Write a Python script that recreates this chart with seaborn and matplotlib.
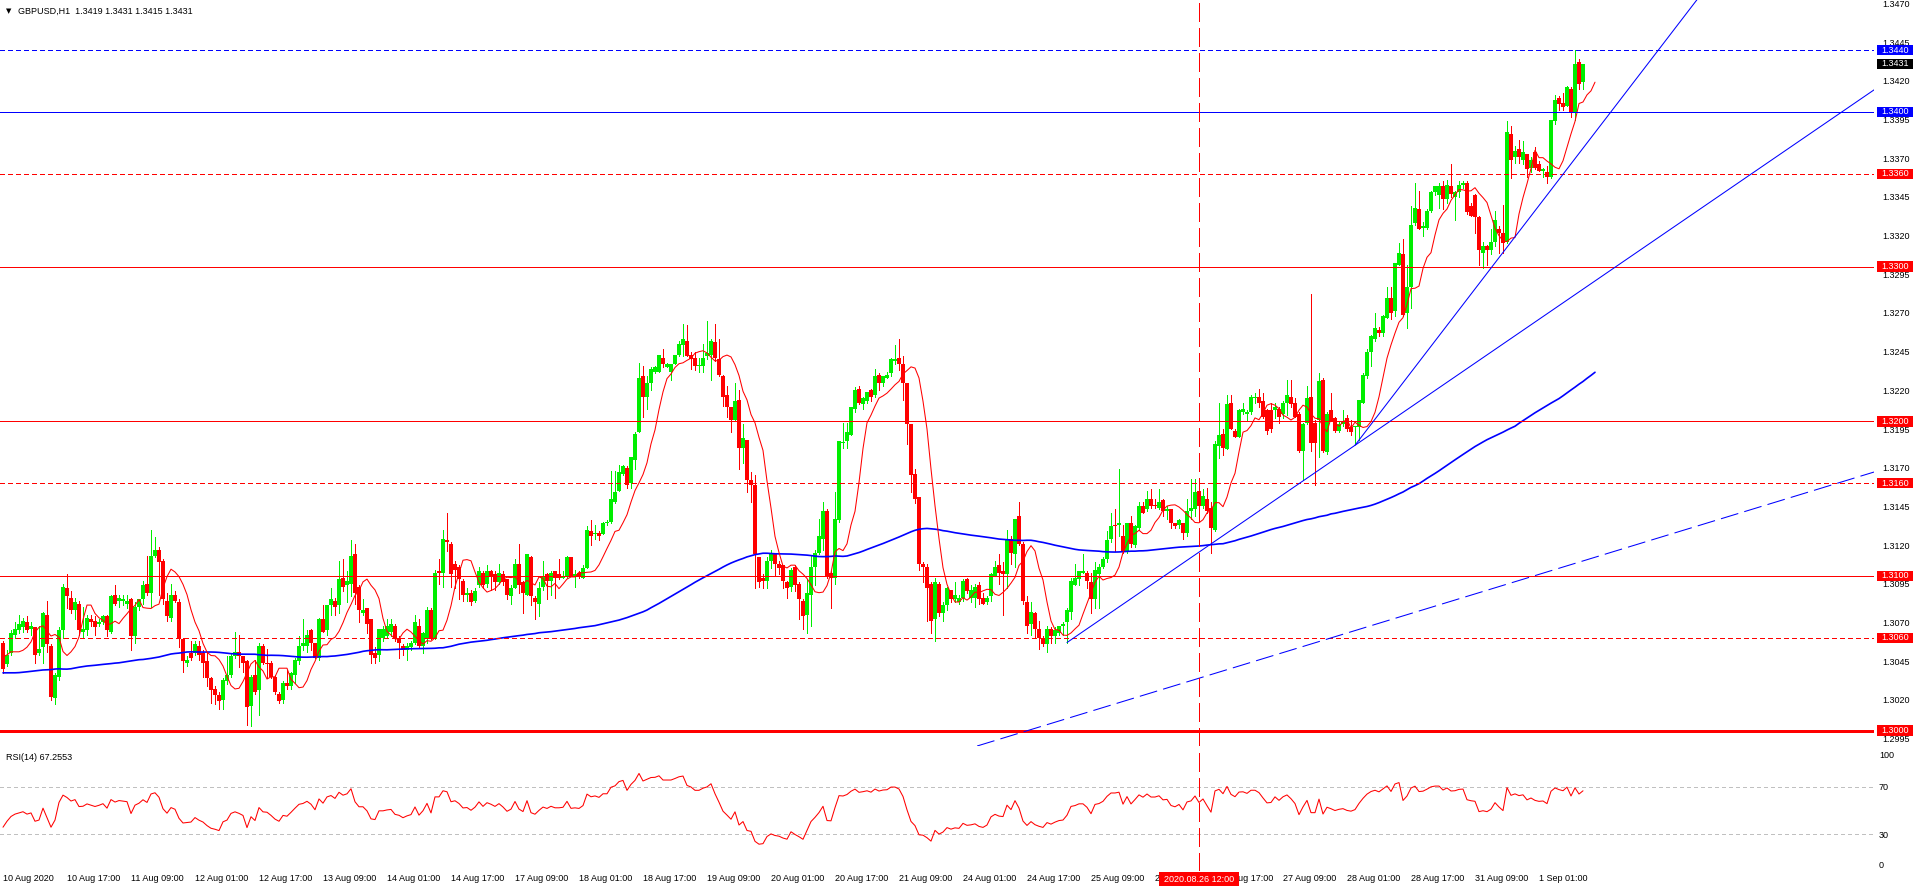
import numpy as np
import pandas as pd
import matplotlib
matplotlib.use("Agg")
import matplotlib.pyplot as plt
import matplotlib.transforms as mtransforms
from matplotlib.patches import Rectangle
import seaborn as sns

# ---------------------------------------------------------------- data
# GBPUSD H1, first bar = 10 Aug 2020 01:00. Prices in pips above 1.3000.
BASE = 1.3000
PIP = 0.0001

open_pips = [
    57,43,50,62,65,67,70,66,67,50, 54,75,55,21,35,65,92,86,78,82,
    64,65,72,71,69,70,74,64,88,84, 84,82,85,61,80,85,95,89,113,117,
    110,84,73,88,83,59,44,50,50,55, 50,45,34,27,23,20,32,36,48,51,
    48,45,16,36,26,55,44,44,35,24, 20,31,29,36,45,55,55,65,57,47,
    72,65,81,84,81,99,94,95,114,93, 76,79,72,50,49,60,61,64,68,60,
    55,52,54,57,68,55,59,78,60,103, 102,123,121,108,106,97,88,89,84,94,
    102,95,103,101,96,101,98,87,92,108, 96,88,112,86,82,93,101,97,103,101,
    99,100,112,100,102,99,105,129,127,128, 127,134,135,148,155,166,170,160,175,193,
    229,216,225,232,232,241,235,232,237,243, 249,252,243,241,236,236,242,243,251,240,
    229,217,209,201,214,183,188,162,159,112, 99,97,110,114,108,107,96,93,106,95,
    84,75,88,106,115,124,142,102,99,136, 186,187,191,208,221,211,213,220,217,230,
    225,228,231,239,241,237,225,198,166,151, 108,106,95,72,95,76,81,91,85,83,
    86,98,86,86,94,86,83,87,100,107, 103,101,124,114,139,121,83,69,76,66,
    60,56,66,61,63,68,70,77,94,98, 102,102,96,85,101,106,111,124,133,133,
    126,116,134,120,131,145,143,150,146,144, 149,142,143,134,133,134,128,142,143,155,
    145,150,144,130,184,192,182,212,194,190, 206,205,206,215,216,213,207,207,207,208,
    205,212,216,212,205,181,199,216,199,201, 227,180,207,202,194,198,202,196,196,196,
    212,229,245,253,259,257,267,280,271,301, 308,270,287,328,337,325,325,336,348,346,
    352,344,352,345,348,353,354,339,346,332, 309,313,311,316,324,322,316,386,371,376,
    369,373,364,374,366,362,361,358,394,409, 406,404,415,400,432,419,
]
high_pips = [
    58,52,65,70,75,73,74,70,67,68, 77,84,56,37,67,95,101,90,86,84,
    80,75,75,74,72,75,75,88,94,88, 88,88,86,83,85,97,113,130,125,119,
    111,89,95,90,85,60,48,58,58,58, 52,50,35,29,25,34,48,50,64,62,
    48,46,36,46,57,56,53,45,36,25, 32,39,38,47,61,72,65,66,57,73,
    81,81,92,86,110,111,103,123,121,94, 85,79,72,54,66,68,72,72,69,61,
    56,57,58,75,72,64,80,79,104,111, 130,141,122,110,107,98,92,91,92,106,
    103,107,104,103,108,103,98,94,111,121, 97,114,113,87,96,110,102,103,103,111,
    103,113,112,104,103,107,132,136,133,129, 135,136,168,168,172,172,171,177,193,238,
    236,229,235,236,243,247,238,237,243,252, 263,262,245,245,241,250,265,253,263,253,
    230,223,209,225,220,198,188,167,165,112, 101,112,117,115,110,107,97,105,107,96,
    85,98,113,117,137,148,143,103,154,187, 199,199,209,222,223,216,219,221,234,231,
    229,232,241,249,253,242,225,198,169,151, 109,108,96,99,96,83,93,91,96,88,
    98,99,94,95,96,89,87,102,110,114, 109,130,126,137,148,122,87,83,77,71,
    61,68,67,67,68,70,79,99,108,103, 114,103,102,109,108,112,129,141,143,169,
    133,134,139,133,148,148,155,156,150,156, 150,145,143,134,137,134,150,163,163,158,
    156,157,148,187,212,195,217,217,195,208, 212,207,217,218,221,218,208,212,212,209,
    213,227,227,215,206,199,223,282,201,231, 228,206,218,203,200,207,204,201,197,214,
    231,247,256,270,261,269,287,287,302,315, 318,301,339,354,349,329,337,349,352,354,
    355,356,366,349,355,355,355,341,347,333, 316,314,324,336,326,340,394,391,378,382,
    381,373,371,377,368,364,365,395,411,410, 412,417,416,440,434,431,
]
low_pips = [
    37,42,49,60,63,64,64,62,44,49, 44,51,20,17,33,60,79,76,72,62,
    60,62,68,62,68,69,61,63,81,80, 81,79,52,57,78,82,88,80,112,88,
    82,71,71,83,54,38,42,46,49,46, 35,29,18,17,14,14,30,35,47,41,
    38,4,3,24,10,43,34,34,24,18, 18,27,27,31,43,52,51,52,47,46,
    64,62,75,75,76,90,83,87,82,70, 75,63,44,44,45,58,60,61,58,47,
    49,46,52,56,54,50,57,59,59,95, 93,116,93,92,85,84,84,81,83,93,
    92,93,91,91,95,94,85,82,92,89, 76,88,81,72,74,91,85,88,86,98,
    99,99,100,93,99,99,105,120,124,123, 127,133,134,147,155,165,157,157,169,193,
    203,208,220,231,232,235,235,227,237,242, 242,242,234,233,232,232,240,227,239,229,
    210,203,193,200,169,173,154,148,92,93, 92,92,105,100,101,92,86,90,90,72,
    66,63,68,94,114,117,99,79,95,135, 183,183,191,206,211,208,212,213,216,220,
    223,228,229,237,233,214,185,154,147,104, 96,71,63,58,74,71,78,83,83,82,
    84,89,83,80,82,82,82,84,100,95, 75,92,108,106,120,82,63,62,60,53,
    55,51,57,57,62,62,57,72,94,94, 102,92,76,79,79,105,109,122,116,126,
    115,115,119,119,130,141,142,144,144,143, 139,137,131,131,131,124,126,137,139,141,
    144,141,115,129,176,178,182,195,190,190, 205,201,205,212,209,202,192,193,202,199,
    202,204,209,203,180,162,198,181,159,177, 180,179,200,193,193,197,194,191,185,188,
    212,228,236,252,255,255,267,266,268,301, 268,260,273,327,324,320,324,335,346,338,
    337,341,345,330,345,351,334,333,322,301, 299,301,308,313,309,309,315,357,367,367,
    366,358,361,363,362,358,354,357,392,401, 401,404,397,395,415,415,
]
close_pips = [
    40,49,63,66,69,71,65,68,49,53, 76,56,22,36,65,93,87,78,83,65,
    66,73,70,67,70,74,65,87,82,86, 85,84,61,80,85,94,89,113,117,109,
    85,74,88,84,60,45,46,47,56,49, 44,34,26,23,19,33,36,48,51,48,
    44,15,35,25,55,44,43,35,25,19, 31,29,37,46,55,57,62,57,47,72,
    64,81,85,80,98,93,97,113,89,78, 78,69,49,47,66,66,68,69,59,57,
    52,55,57,70,55,63,78,59,102,102, 124,122,101,104,98,88,89,83,90,103,
    94,103,100,96,102,96,88,92,108,94, 89,114,87,83,92,100,97,102,99,99,
    100,112,100,101,100,105,130,126,128,126, 134,134,150,154,167,171,159,177,192,228,
    216,225,234,235,243,237,237,237,243,250, 253,242,240,236,236,241,244,252,241,230,
    216,209,201,213,183,189,162,159,114,96, 97,110,115,108,105,97,92,104,94,85,
    74,89,106,115,126,142,100,99,137,187, 186,193,209,220,212,215,219,216,229,225,
    229,230,240,240,237,225,198,165,150,108, 106,92,71,96,76,81,92,85,88,86,
    97,90,91,93,85,82,86,101,106,102, 101,124,115,137,121,84,68,77,66,60,
    56,66,61,65,68,69,78,97,99,103, 103,97,85,104,106,111,123,132,132,134,
    116,134,121,132,145,141,150,145,145,148, 142,143,134,132,136,128,142,144,154,145,
    152,142,131,185,191,183,211,195,190,207, 208,205,216,216,212,203,194,195,209,203,
    212,217,211,203,181,198,215,186,186,226, 181,205,200,194,198,200,195,193,197,214,
    230,245,255,260,257,268,280,270,302,309, 269,287,327,338,324,326,336,348,352,352,
    344,353,347,348,353,354,335,333,332,311, 313,311,316,330,322,315,387,369,375,371,
    374,363,369,364,362,363,358,395,408,405, 403,416,400,431,418,431,
]

# indicator values read at the left edge (history before the first bar)
red_ma_lead = [1.30477, 1.30490, 1.30510, 1.30510, 1.30510, 1.30520, 1.30540]
blue_ma_lead = [1.30374, 1.30374, 1.30374]
blue_ma_seed = 1.30374
rsi_lead = [36, 41, 45, 47, 48, 49, 47, 48, 41, 42, 52, 44, 36, 42]
red_ma_period, red_ma_shift = 5, 3
blue_ma_period, blue_ma_shift = 200, 3
rsi_period = 14

# time-axis labels (every 16 bars); the two labels partly hidden by the
# event tag show only their visible parts, as in the original
time_labels = ["10 Aug 2020", "10 Aug 17:00", "11 Aug 09:00", "12 Aug 01:00", "12 Aug 17:00",
               "13 Aug 09:00", "14 Aug 01:00", "14 Aug 17:00", "17 Aug 09:00", "18 Aug 01:00",
               "18 Aug 17:00", "19 Aug 09:00", "20 Aug 01:00", "20 Aug 17:00", "21 Aug 09:00",
               "24 Aug 01:00", "24 Aug 17:00", "25 Aug 09:00", "2", "ug 17:00",
               "27 Aug 09:00", "28 Aug 01:00", "28 Aug 17:00", "31 Aug 09:00", "1 Sep 01:00"]
time_label_bars = [16 * k for k in range(len(time_labels))]
hidden_prefix_px = {19: 19}   # "26 A" hidden under the event tag

price_ticks = [1.2995, 1.3020, 1.3045, 1.3070, 1.3095, 1.3120, 1.3145, 1.3170, 1.3195, 1.3220,
               1.3245, 1.3270, 1.3295, 1.3320, 1.3345, 1.3370, 1.3395, 1.3420, 1.3445, 1.3470]
rsi_ticks = [0, 30, 70, 100]

levels = [1.3440, 1.3400, 1.3360, 1.3300, 1.3200, 1.3160, 1.3100, 1.3060, 1.3000]
level_colors = ["#0000FF", "#0000FF", "#FF0000", "#FF0000", "#FF0000", "#FF0000", "#FF0000", "#FF0000", "#FF0000"]
level_styles = ["dot", "solid", "dot", "solid", "solid", "dot", "solid", "dot", "thick"]
last_price = 1.3431

trend1_bars, trend1_prices = [266, 330.5], [1.30570, 1.31712]
trend2_bars, trend2_prices = [338, 399.3], [1.31845, 1.33910]
trend3_bars, trend3_prices = [267.2, 467.5], [1.30088, 1.31670]

event_bar = 299
event_label = "2020.08.26 12:00"
header = "GBPUSD,H1  1.3419 1.3431 1.3415 1.3431"
rsi_title = "RSI(14) 67.2553"

# ---------------------------------------------------------------- derived series
o = BASE + np.array(open_pips) * PIP
h = BASE + np.array(high_pips) * PIP
l = BASE + np.array(low_pips) * PIP
c = BASE + np.array(close_pips) * PIP
n = len(c)
bars = np.arange(n)
df = pd.DataFrame({"bar": bars, "open": o, "high": h, "low": l, "close": c})

sma = df["close"].rolling(red_ma_period).mean().to_numpy()
red_x = np.concatenate([np.arange(len(red_ma_lead)), bars[red_ma_period - 1:] + red_ma_shift])
red_y = np.concatenate([red_ma_lead, sma[red_ma_period - 1:]])

alpha = 2.0 / (blue_ma_period + 1)
ema = []
prev = blue_ma_seed
for ci in c:
    prev = prev + alpha * (ci - prev)
    ema.append(prev)
blue_x = np.concatenate([np.arange(len(blue_ma_lead)), bars + blue_ma_shift])
blue_y = np.concatenate([blue_ma_lead, ema])

d = np.diff(c, prepend=np.nan)
gain = np.where(d > 0, d, 0.0)
loss = np.where(d < 0, -d, 0.0)
ag = np.full(n, np.nan)
al = np.full(n, np.nan)
ag[rsi_period] = gain[1:rsi_period + 1].mean()
al[rsi_period] = loss[1:rsi_period + 1].mean()
for i in range(rsi_period + 1, n):
    ag[i] = (ag[i - 1] * (rsi_period - 1) + gain[i]) / rsi_period
    al[i] = (al[i - 1] * (rsi_period - 1) + loss[i]) / rsi_period
rsi = 100 - 100 / (1 + ag / al)
rsi[:rsi_period] = rsi_lead

# ---------------------------------------------------------------- style
sns.set_theme(style="white")
plt.rcParams["font.family"] = ["Liberation Sans", "DejaVu Sans"]
plt.rcParams["lines.scale_dashes"] = False
FS = 6.5
BULL = "#00EE00"
BEAR = "#FF0000"
RED = "#FF0000"
BLUE = "#0000FF"
LW1 = 0.7   # ~1 px

W, H = 1916, 891
fig = plt.figure(figsize=(W / 100, H / 100), dpi=100)
fig.patch.set_facecolor("white")
ax = fig.add_axes([0, 1 - 746 / H, 1874 / W, 746 / H])
ax2 = fig.add_axes([0, 1 - 871 / H, 1874 / W, 122 / H])
for a in (ax, ax2):
    a.set_facecolor("white")
    for s in a.spines.values():
        s.set_visible(False)
    a.set_xlim(-0.75, 467.75)
    a.set_axisbelow(True)

ymin, ymax = 1.299011, 1.347232
ax.set_ylim(ymin, ymax)
ax2.set_ylim(-0.8, 101.7)

# candles
up = df["close"] >= df["open"]
cols = np.where(up, BULL, BEAR)
body_lo = np.minimum(df["open"], df["close"])
body_h = np.maximum(np.abs(df["close"] - df["open"]), 0.00007)
ax.vlines(df["bar"], df["low"], df["high"], colors=cols, linewidth=LW1, zorder=3, antialiased=False)
ax.bar(df["bar"], body_h, bottom=body_lo, width=0.8, color=cols, linewidth=0, zorder=3.2, antialiased=False)

# moving averages
sns.lineplot(x=blue_x, y=blue_y, ax=ax, color=BLUE, linewidth=1.2, estimator=None, sort=False, legend=False, zorder=4)
sns.lineplot(x=red_x, y=red_y, ax=ax, color=RED, linewidth=0.75, estimator=None, sort=False, legend=False, zorder=4.2)

# horizontal levels
for lv, col, st in zip(levels, level_colors, level_styles):
    if st == "dot":
        ax.axhline(lv, color=col, linewidth=LW1, dashes=(2.9, 2.2), zorder=5, antialiased=False)
    elif st == "thick":
        ax.axhline(lv, color=col, linewidth=2.0, zorder=5, antialiased=False)
    else:
        ax.axhline(lv, color=col, linewidth=LW1, zorder=5, antialiased=False)

# trend lines (rays to the right)
def ray(bx, py, far=600):
    slope = (py[1] - py[0]) / (bx[1] - bx[0])
    return [bx[0], far], [py[0], py[0] + slope * (far - bx[0])]

for bx, py in ((trend1_bars, trend1_prices), (trend2_bars, trend2_prices)):
    xs, ys = ray(bx, py)
    ax.plot(xs, ys, color=BLUE, linewidth=0.75, zorder=5)
ax.axline((trend3_bars[0], trend3_prices[0]), (trend3_bars[1], trend3_prices[1]),
          color=BLUE, linewidth=0.75, dashes=(13, 4.5), zorder=5)

# vertical event line
for a in (ax, ax2):
    a.axvline(event_bar, color=RED, linewidth=LW1, dashes=(13, 5), zorder=6, antialiased=False)

# RSI panel
for g in (70, 30):
    ax2.axhline(g, color="#C0C0C0", linewidth=LW1, dashes=(2.2, 2.2), zorder=1, antialiased=False)
sns.lineplot(x=bars, y=rsi, ax=ax2, color=RED, linewidth=0.75, estimator=None, sort=False, legend=False, zorder=4)
ax2.set_xlabel("")
ax2.set_ylabel("")
ax.set_xlabel("")
ax.set_ylabel("")

# axes ticks
ax.yaxis.tick_right()
ax.set_yticks(price_ticks)
ax.set_yticklabels([f"{p:.4f}" for p in price_ticks])
ax.tick_params(axis="y", length=0, pad=5.8, labelsize=FS, colors="black")
ax.set_xticks([])

ax2.yaxis.tick_right()
ax2.set_yticks(rsi_ticks)
ax2.set_yticklabels([str(t) for t in rsi_ticks])
ax2.tick_params(axis="y", length=0, pad=3.6, labelsize=FS, colors="black")
for t in ax2.get_yticklabels():
    if t.get_text() == "100":
        t.set_va("top")
    elif t.get_text() == "0":
        t.set_va("bottom")
ax2.set_xticks(time_label_bars)
ax2.set_xticklabels(time_labels)
ax2.tick_params(axis="x", length=0, pad=2.2, labelsize=FS, colors="black")
for k, t in enumerate(ax2.get_xticklabels()):
    t.set_ha("left")
    if k in hidden_prefix_px:
        off = mtransforms.ScaledTranslation(hidden_prefix_px[k] / 100, 0, fig.dpi_scale_trans)
        t.set_transform(t.get_transform() + off)

# right-side price tags
px = (ymax - ymin) / 746.0
trans = mtransforms.blended_transform_factory(ax.transAxes, ax.transData)
def tag(value, text, face):
    hgt = 10.5 * px
    ax.add_patch(Rectangle((1877 / 1874, value - hgt / 2), 36 / 1874, hgt, transform=trans,
                           facecolor=face, edgecolor="none", clip_on=False, zorder=8))
    ax.text(1881.5 / 1874, value, text, transform=trans, ha="left", va="center",
            color="white", fontsize=FS, clip_on=False, zorder=9)

for lv, col in zip(levels, level_colors):
    tag(lv, f"{lv:.4f}", col)
tag(last_price, f"{last_price:.4f}", "#000000")

# event date tag on time axis
trans2 = mtransforms.blended_transform_factory(ax2.transData, ax2.transAxes)
ax2.add_patch(Rectangle((event_bar - 40 / 4, -0.123), 80 / 4, 0.115, transform=trans2,
                        facecolor=RED, edgecolor="none", clip_on=False, zorder=10))
ax2.text(event_bar, -0.066, event_label, transform=trans2, ha="center", va="center",
         color="white", fontsize=FS, clip_on=False, zorder=11)

# titles
fig.text(6 / W, 1 - 11 / H, "\u25BC", fontsize=5, color="black", va="center", ha="left",
         family=["DejaVu Sans"])
fig.text(18 / W, 1 - 11 / H, header, fontsize=FS, color="black", va="center", ha="left")
fig.text(6 / W, 1 - 758 / H, rsi_title, fontsize=FS, color="black", va="center", ha="left")

fig.savefig("out.png", dpi=100, facecolor="white")
